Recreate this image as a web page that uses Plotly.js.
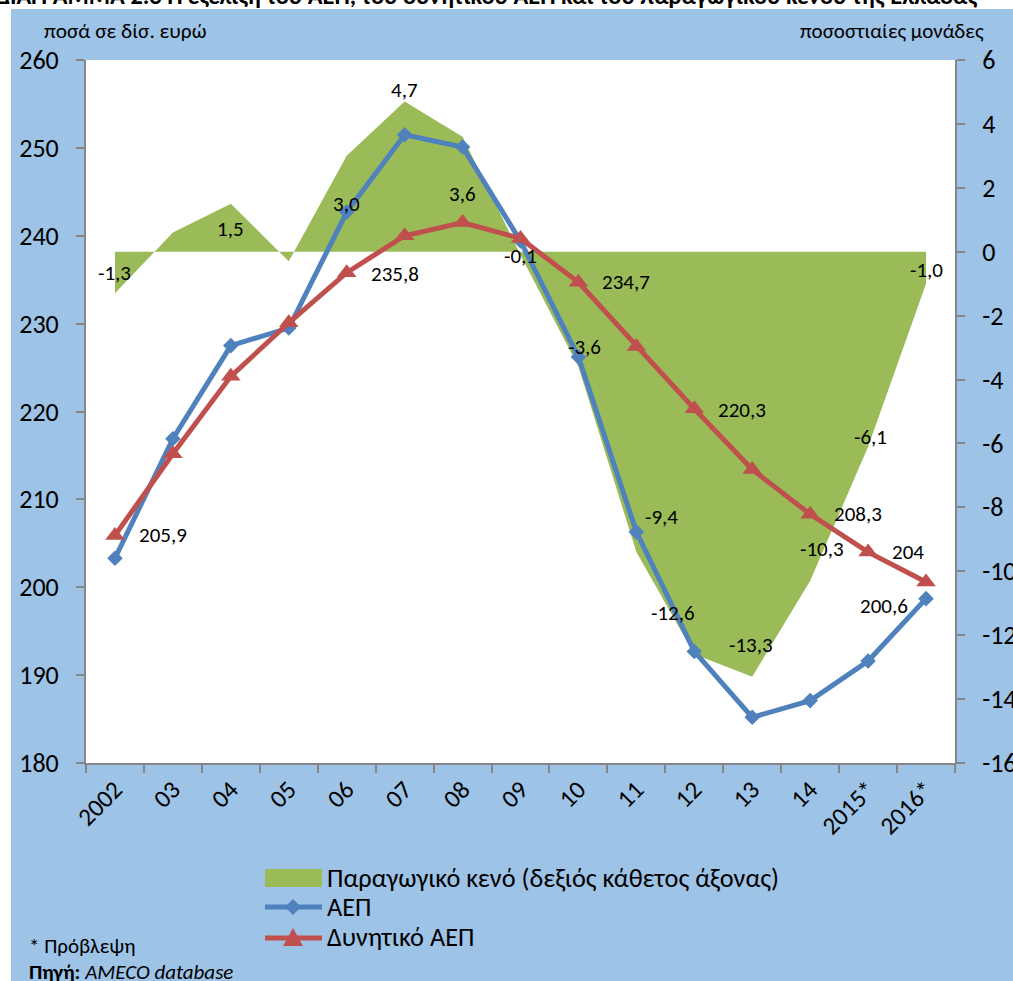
<!DOCTYPE html>
<html><head><meta charset="utf-8">
<script src="https://cdn.plot.ly/plotly-3.0.1.min.js"></script>
<style>html,body{margin:0;padding:0;background:#fff;}#chart{width:1013px;height:981px;}</style>
</head><body><div id="chart"></div>
<script>
// ---- data ----
const years = ['2002','03','04','05','06','07','08','09','10','11','12','13','14','2015*','2016*'];
const outputGap = [-1.3, 0.6, 1.5, -0.3, 3.0, 4.7, 3.6, -0.1, -3.6, -9.4, -12.6, -13.3, -10.3, -6.1, -1.0];
const gdp = [203.3, 216.9, 227.5, 229.5, 242.7, 251.5, 250.1, 239.4, 226.2, 206.3, 192.7, 185.2, 187.1, 191.6, 198.7];
const potentialGdp = [205.9, 215.2, 224.0, 230.1, 235.8, 240.0, 241.5, 239.7, 234.7, 227.4, 220.3, 213.4, 208.3, 204.0, 200.6];
const gapTicks = [-16, -14, -12, -10, -8, -6, -4, -2, 0, 2, 4, 6];
const gdpTicks = [180, 190, 200, 210, 220, 230, 240, 250, 260];

// which points carry a data label, and label offsets (px)
const gapLabelIdx = [0, 2, 4, 5, 6, 7, 8, 9, 10, 11, 12, 13, 14];
const gapLabelShift = {0:[0,20],2:[0,-25],4:[0,-48],5:[0,12],6:[0,-57],7:[0,-1],8:[6,20],9:[25,35],10:[-21,41],11:[-1,32],12:[12,32],13:[2,10],14:[0,14]};
const potLabelIdx = [0, 4, 8, 10, 12, 13, 14];
const potLabelShift = {0:[48,0],4:[48,-1],8:[48,0],10:[48,-1],12:[48,0],13:[40,0],14:[-42,-24]};

const FONT = "Carlito, 'Liberation Sans', Arial, sans-serif";
const GREEN = '#9BBB59', BLUE = '#4F81BD', RED = '#C0504D', AXIS = '#868686', BG = '#9DC3E6';
const L = 86, R = 955, T = 60, B = 763;
const px = x => (x - L) / (R - L);
const py = y => (B - y) / (B - T);
const fmtGap = v => v.toFixed(1).replace('.', ',');
const fmtGen = v => String(v).replace('.', ',');

const traces = [
  {x: years, y: outputGap, yaxis: 'y', type: 'scatter', mode: 'none', fill: 'tozeroy',
   fillcolor: GREEN, name: 'Παραγωγικό κενό (δεξιός κάθετος άξονας)', hoverinfo: 'skip'},
  {x: years, y: gdp, yaxis: 'y2', type: 'scatter', mode: 'lines+markers', name: 'ΑΕΠ',
   line: {color: BLUE, width: 5}, marker: {symbol: 'diamond', size: 12, color: BLUE}},
  {x: years, y: potentialGdp, yaxis: 'y2', type: 'scatter', mode: 'lines+markers', name: 'Δυνητικό ΑΕΠ',
   line: {color: RED, width: 5}, marker: {symbol: 'triangle-up', size: 17, color: RED}}
];

const LABEL_SIZE = 21;
const ann = [];
gapLabelIdx.forEach(i => {
  const s = gapLabelShift[i];
  ann.push({x: i, y: outputGap[i], xref: 'x', yref: 'y', text: fmtGap(outputGap[i]),
    showarrow: false, xshift: s[0], yshift: s[1], font: {family: FONT, size: LABEL_SIZE, color: '#000'}});
});
potLabelIdx.forEach(i => {
  const s = potLabelShift[i];
  ann.push({x: i, y: potentialGdp[i], xref: 'x', yref: 'y2', text: fmtGen(potentialGdp[i]),
    showarrow: false, xshift: s[0], yshift: s[1], font: {family: FONT, size: LABEL_SIZE, color: '#000'}});
});
const paperText = (x, y, text, size, xanchor) => ({xref: 'paper', yref: 'paper', x: px(x), y: py(y),
  text: text, showarrow: false, xanchor: xanchor, yanchor: 'middle', font: {family: FONT, size: size, color: '#000'}});
ann.push(paperText(-6, -4, '<b>ΔΙΑΓΡΑΜΜΑ 2.3 Η εξέλιξη του ΑΕΠ, του δυνητικού ΑΕΠ και του παραγωγικού κενού της Ελλάδας</b>', 24.4, 'left'));
ann.push(paperText(125, 31, 'ποσά σε δίσ. ευρώ', 21.3, 'center'));
ann.push(paperText(892, 31, 'ποσοστιαίες μονάδες', 21, 'center'));
ann.push(paperText(325, 878, 'Παραγωγικό κενό (δεξιός κάθετος άξονας)', 26.3, 'left'));
ann.push(paperText(325, 907, 'ΑΕΠ', 26.3, 'left'));
ann.push(paperText(325, 937, 'Δυνητικό ΑΕΠ', 26.3, 'left'));
ann.push(paperText(27, 946, '* Πρόβλεψη', 21, 'left'));
ann.push(paperText(27, 972, '<b>Πηγή:</b> <i>AMECO database</i>', 21, 'left'));

const P = (pts) => 'M' + pts.map(p => px(p[0]) + ',' + py(p[1])).join(' L') + ' Z';
const shapes = [
  {type: 'rect', xref: 'paper', yref: 'paper', x0: px(-5), x1: px(1020), y0: py(9), y1: py(-5), fillcolor: '#fff', line: {width: 0}, layer: 'above'},
  {type: 'rect', xref: 'paper', yref: 'paper', x0: px(-5), x1: px(11), y0: py(990), y1: py(-5), fillcolor: '#fff', line: {width: 0}, layer: 'above'},
  {type: 'rect', xref: 'paper', yref: 'paper', x0: px(265), x1: px(322), y0: py(887), y1: py(869), fillcolor: GREEN, line: {width: 0}},
  {type: 'line', xref: 'paper', yref: 'paper', x0: px(265), x1: px(322), y0: py(907), y1: py(907), line: {color: BLUE, width: 5}},
  {type: 'path', xref: 'paper', yref: 'paper', path: P([[293, 899], [301, 907], [293, 915], [285, 907]]), fillcolor: BLUE, line: {width: 0}},
  {type: 'line', xref: 'paper', yref: 'paper', x0: px(265), x1: px(322), y0: py(938), y1: py(938), line: {color: RED, width: 5}},
  {type: 'path', xref: 'paper', yref: 'paper', path: P([[293, 928], [303, 946], [283, 946]]), fillcolor: RED, line: {width: 0}}
];

const axisCommon = {showgrid: false, zeroline: false, showline: true, linecolor: AXIS, linewidth: 2,
  ticks: 'outside', ticklen: 8, tickwidth: 2, tickcolor: AXIS, tickfont: {family: FONT, size: 26, color: '#000'}, fixedrange: true};

const layout = {
  width: 1013, height: 981,
  margin: {l: L, r: 1013 - R, t: T, b: 981 - B},
  paper_bgcolor: BG, plot_bgcolor: '#fff',
  showlegend: false,
  font: {family: FONT, color: '#000'},
  xaxis: Object.assign({}, axisCommon, {type: 'category', range: [-0.5, 14.5], tickson: 'boundaries', tickangle: -45,
    tickfont: {family: FONT, size: 25, color: '#000'}}),
  yaxis: Object.assign({}, axisCommon, {side: 'right', range: [-16, 6], tickmode: 'array', tickvals: gapTicks, ticktext: gapTicks.map(String), ticklabelstandoff: 12}),
  yaxis2: Object.assign({}, axisCommon, {side: 'left', overlaying: 'y', range: [180, 260], tickmode: 'array', tickvals: gdpTicks, ticktext: gdpTicks.map(String), ticklabelstandoff: 12}),
  annotations: ann,
  shapes: shapes
};

Plotly.newPlot('chart', traces, layout, {displayModeBar: false, staticPlot: true});
</script>
</body></html>
